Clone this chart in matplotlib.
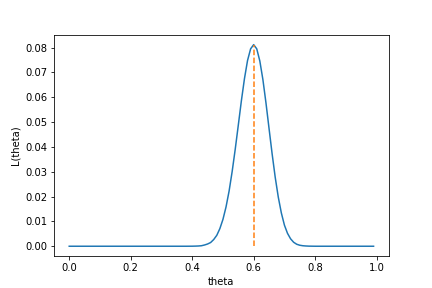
import matplotlib
matplotlib.use('Agg')
import matplotlib.pyplot as plt

# theta grid and likelihood values
theta = [0.0, 0.1, 0.2, 0.3, 0.38, 0.40, 0.41, 0.42, 0.43, 0.44, 0.45, 0.46, 0.47,
         0.48, 0.49, 0.50, 0.51, 0.52, 0.53, 0.54, 0.55, 0.56, 0.57, 0.58,
         0.59, 0.60, 0.61, 0.62, 0.63, 0.64, 0.65, 0.66, 0.67, 0.68, 0.69,
         0.70, 0.71, 0.72, 0.73, 0.74, 0.75, 0.76, 0.77, 0.78, 0.80, 0.9, 0.99]
likelihood = [0.0, 0.0, 0.0, 0.0, 0.0, 0.00002, 0.00005, 0.0001, 0.0002, 0.0005, 0.0009, 0.0015,
              0.0027, 0.0044, 0.0071, 0.0108, 0.0158, 0.0222, 0.0301, 0.0391,
              0.0488, 0.0586, 0.0675, 0.0748, 0.0795, 0.0812, 0.0795, 0.0746,
              0.0671, 0.0577, 0.0474, 0.0372, 0.0278, 0.0198, 0.0134, 0.0085,
              0.0052, 0.0030, 0.0016, 0.0008, 0.0004, 0.0002, 0.0001, 0.00004,
              0.0, 0.0, 0.0]
theta_hat = 0.6
L_max = 0.0812

fig, ax = plt.subplots(figsize=(6, 4), dpi=72)
ax.plot(theta, likelihood)
ax.plot([theta_hat, theta_hat], [0, L_max], '--')
ax.set_xlabel('theta')
ax.set_ylabel('L(theta)')
fig.savefig('out.png', dpi=72)
